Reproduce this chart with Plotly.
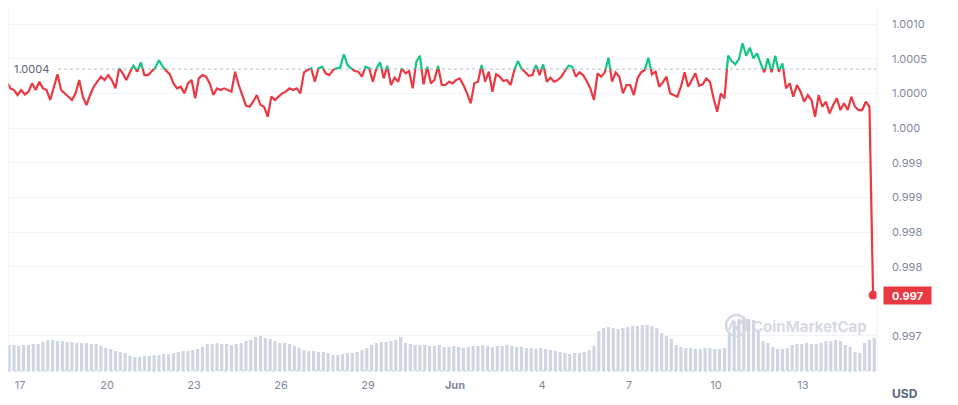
import plotly.graph_objects as go
import pandas as pd

# ---------------- data ----------------
price_start = "2023-05-16 13:00"
price_step_hours = 3
prices = [
    1.000168, 1.000072, 1.000048, 0.999976, 1.000048, 0.999985, 1.000024, 1.000144, 1.000048, 1.000168,
    1.000072, 1.000048, 0.999904, 1.000110, 1.000274, 1.000048, 1.000000, 0.999966, 0.999904, 1.000000,
    1.000192, 0.999952, 0.999831, 0.999976, 1.000096, 1.000168, 1.000240, 1.000192, 1.000264, 1.000192,
    1.000072, 1.000360, 1.000288, 1.000192, 1.000312, 1.000399, 1.000312, 1.000447, 1.000264, 1.000264,
    1.000322, 1.000370, 1.000476, 1.000384, 1.000322, 1.000274, 1.000144, 1.000072, 1.000096, 1.000000,
    1.000144, 1.000192, 0.999928, 1.000216, 1.000264, 1.000240, 1.000144, 0.999976, 1.000072, 1.000048,
    1.000072, 1.000048, 1.000024, 1.000312, 1.000120, 0.999976, 0.999822, 0.999807, 0.999879, 0.999976,
    0.999831, 0.999807, 0.999663, 0.999952, 0.999904, 0.999952, 1.000000, 1.000024, 1.000072, 1.000048,
    1.000072, 1.000000, 1.000303, 1.000336, 1.000360, 1.000168, 1.000360, 1.000384, 1.000288, 1.000264,
    1.000336, 1.000360, 1.000370, 1.000562, 1.000408, 1.000360, 1.000322, 1.000312, 1.000240, 1.000384,
    1.000360, 1.000168, 1.000360, 1.000447, 1.000216, 1.000399, 1.000120, 1.000226, 1.000168, 1.000360,
    1.000288, 1.000322, 1.000072, 1.000456, 1.000543, 1.000129, 1.000384, 1.000144, 1.000192, 1.000399,
    1.000120, 1.000120, 1.000168, 1.000144, 1.000192, 1.000216, 1.000120, 1.000000, 0.999855, 1.000144,
    1.000168, 1.000408, 1.000168, 1.000312, 1.000024, 1.000274, 1.000240, 1.000178, 1.000192, 1.000120,
    1.000336, 1.000466, 1.000360, 1.000303, 1.000254, 1.000264, 1.000408, 1.000264, 1.000418, 1.000168,
    1.000226, 1.000168, 1.000192, 1.000240, 1.000322, 1.000399, 1.000384, 1.000240, 1.000303, 1.000264,
    1.000178, 1.000072, 0.999904, 1.000288, 1.000240, 1.000303, 1.000514, 1.000168, 1.000303, 1.000240,
    1.000000, 1.000120, 1.000120, 0.999976, 1.000216, 1.000303, 1.000336, 1.000514, 1.000274, 1.000312,
    1.000096, 1.000158, 1.000240, 1.000000, 0.999976, 0.999952, 1.000096, 1.000303, 1.000096, 1.000192,
    1.000288, 1.000110, 1.000129, 1.000216, 1.000168, 0.999928, 0.999735, 1.000000, 0.999928, 1.000543,
    1.000466, 1.000418, 1.000495, 1.000721, 1.000543, 1.000658, 1.000504, 1.000577, 1.000432, 1.000303,
    1.000504, 1.000303, 1.000543, 1.000312, 1.000432, 1.000072, 1.000144, 0.999952, 1.000120, 1.000024,
    0.999879, 0.999976, 0.999904, 0.999663, 0.999976, 0.999807, 0.999879, 0.999711, 0.999831, 0.999928,
    0.999759, 0.999855, 0.999759, 0.999952, 0.999807, 0.999759, 0.999759, 0.999879, 0.999807, 0.997090,
]

volume_start = "2023-05-16 15:00"
volume_step_hours = 4
volumes = [
    26, 26, 25, 26, 26, 27, 27, 29, 31, 31,
    30, 30, 29, 29, 28, 28, 28, 27, 27, 25,
    23, 22, 20, 19, 18, 15, 14, 14, 15, 15,
    16, 16, 17, 17, 18, 19, 20, 20, 21, 22,
    24, 27, 27, 28, 27, 27, 26, 27, 28, 30,
    31, 34, 35, 33, 32, 30, 28, 28, 27, 25,
    23, 21, 20, 20, 19, 19, 18, 16, 16, 17,
    18, 18, 19, 21, 23, 26, 28, 29, 29, 30,
    31, 34, 28, 27, 26, 26, 26, 25, 25, 26,
    24, 24, 25, 24, 23, 24, 25, 25, 26, 25,
    24, 25, 25, 26, 25, 24, 24, 23, 23, 22,
    23, 22, 21, 20, 19, 18, 17, 18, 18, 19,
    21, 25, 40, 43, 44, 43, 42, 43, 44, 45,
    45, 46, 46, 45, 43, 38, 35, 32, 26, 24,
    23, 23, 22, 22, 23, 23, 22, 22, 23, 37,
    50, 52, 53, 52, 51, 40, 30, 28, 24, 22,
    22, 23, 26, 27, 27, 28, 27, 27, 28, 30,
    30, 31, 30, 26, 24, 19, 18, 28, 31, 33,
]

base_price = 1.00035
base_label = "1.0004"
last_label = "0.997"
currency_label = "USD"
watermark = "CoinMarketCap"

price_tick_vals = [1.0010, 1.0005, 1.0000, 0.9995, 0.9990, 0.9985, 0.9980, 0.9975, 0.9965]
price_tick_text = ["1.0010", "1.0005", "1.0000", "1.000", "0.999", "0.999", "0.998", "0.998", "0.997"]

date_tick_vals = ["2023-05-17", "2023-05-20", "2023-05-23", "2023-05-26", "2023-05-29",
                  "2023-06-01", "2023-06-04", "2023-06-07", "2023-06-10", "2023-06-13"]
date_tick_text = ["17", "20", "23", "26", "29", "<b>Jun</b>", "4", "7", "10", "13"]

# ---------------- styling / layout constants ----------------
RED = "#ea3943"
GREEN = "#16c784"
GREY = "#808a9d"
OFF = 8                      # page body margin
W, H = 942, 397
ML, MR, MT, MB = 0, 73, 0, 34
PLOT_W = W - ML - MR
PLOT_H = H - MT - MB
PRICE_RANGE = [0.995995, 1.001231]
X_RANGE = ["2023-05-16 14:04", "2023-06-15 13:15"]
FONT = "Inter, Roboto, Open Sans, sans-serif"


def px(xp):
    return (xp - OFF - ML) / PLOT_W


def py(yp):
    return (OFF + MT + PLOT_H - yp) / PLOT_H


# ---------------- build traces ----------------
times = list(pd.date_range(price_start, periods=len(prices), freq=f"{price_step_hours}h"))
vtimes = list(pd.date_range(volume_start, periods=len(volumes), freq=f"{volume_step_hours}h"))

red_x, red_y, green_x, green_y = [], [], [], []
for i, (t, p) in enumerate(zip(times, prices)):
    if i > 0:
        t0, p0 = times[i - 1], prices[i - 1]
        if (p0 - base_price) * (p - base_price) < 0:
            f = (base_price - p0) / (p - p0)
            tc = t0 + (t - t0) * f
            red_x.append(tc); red_y.append(base_price)
            green_x.append(tc); green_y.append(base_price)
            if p > base_price:
                red_x.append(tc); red_y.append(None)
            else:
                green_x.append(tc); green_y.append(None)
    if p <= base_price:
        red_x.append(t); red_y.append(p)
    if p >= base_price:
        green_x.append(t); green_y.append(p)

fig = go.Figure()
fig.add_trace(go.Bar(x=vtimes, y=volumes, marker=dict(color="#cfd5e1", line=dict(width=0)),
                     yaxis="y", hoverinfo="skip"))
fig.add_trace(go.Scatter(x=red_x, y=red_y, mode="lines", line=dict(color=RED, width=2.2),
                         yaxis="y2", connectgaps=False, hoverinfo="skip"))
fig.add_trace(go.Scatter(x=green_x, y=green_y, mode="lines", line=dict(color=GREEN, width=2.2),
                         yaxis="y2", connectgaps=False, hoverinfo="skip"))
fig.add_trace(go.Scatter(x=[times[-1]], y=[prices[-1]], mode="markers",
                         marker=dict(color=RED, size=9), yaxis="y2", hoverinfo="skip"))

fig.update_layout(
    width=W, height=H,
    margin=dict(l=ML, r=MR, t=MT, b=MB),
    plot_bgcolor="white", paper_bgcolor="white",
    showlegend=False, bargap=0.35,
    font=dict(family=FONT, size=11, color=GREY),
    xaxis=dict(type="date", range=X_RANGE, tickvals=date_tick_vals, ticktext=date_tick_text,
               showgrid=False, zeroline=False, showline=False, ticks="",
               tickfont=dict(size=11, color=GREY), ticklabelstandoff=6),
    yaxis=dict(range=[0, PLOT_H], showticklabels=False, showgrid=False, zeroline=False,
               showline=False, fixedrange=True),
    yaxis2=dict(overlaying="y", side="right", range=PRICE_RANGE,
                tickvals=price_tick_vals, ticktext=price_tick_text,
                showgrid=True, gridcolor="#f2f3f6", gridwidth=1, zeroline=False,
                showline=False, ticks="", ticklabelstandoff=14,
                tickfont=dict(size=11, color=GREY)),
)

# frame lines and baseline
fig.add_shape(type="line", xref="paper", yref="paper", x0=0, x1=0, y0=0, y1=1,
              line=dict(color="#eef0f3", width=1))
fig.add_shape(type="line", xref="paper", yref="paper", x0=1, x1=1, y0=0, y1=1,
              line=dict(color="#eef0f3", width=1))
fig.add_shape(type="line", xref="paper", yref="paper", x0=0, x1=1, y0=0, y1=0,
              line=dict(color="#c9d1de", width=1, dash="dot"))
fig.add_shape(type="line", xref="paper", yref="y2", x0=px(58), x1=1, y0=base_price, y1=base_price,
              line=dict(color="#b3bac6", width=1, dash="dot"), layer="below")

# watermark logo
fig.add_shape(type="circle", xref="paper", yref="paper",
              x0=px(726), x1=px(747), y0=py(336), y1=py(315),
              line=dict(color="#d5dae2", width=2.5))
fig.add_shape(type="path", xref="paper", yref="paper",
              path=(f"M {px(729)} {py(330)} L {px(733)} {py(321)} L {px(737)} {py(329)} "
                    f"L {px(741)} {py(321)} L {px(744)} {py(327)}"),
              line=dict(color="#d5dae2", width=2))

fig.add_annotation(xref="paper", yref="paper", x=px(809), y=py(326), xanchor="center",
                   yanchor="middle", text=f"<b>{watermark}</b>", showarrow=False,
                   font=dict(size=15, color="#d5dae2", family=FONT))

fig.add_annotation(xref="paper", yref="y2", x=px(12), y=base_price, xanchor="left",
                   text=base_label, showarrow=False,
                   font=dict(size=11, color="#58667e"), bgcolor="white")

fig.add_annotation(xref="paper", yref="y2", x=1, y=prices[-1], xanchor="left", xshift=6,
                   text=f"<b>{last_label}</b>", showarrow=False, bgcolor=RED,
                   font=dict(size=11, color="white"), width=43, height=13, borderpad=2, align="center")

fig.add_annotation(xref="paper", yref="paper", x=px(905), y=py(393), xanchor="center",
                   yanchor="middle", text=f"<b>{currency_label}</b>", showarrow=False,
                   font=dict(size=12, color="#58667e"))

fig.write_html("out.html")
